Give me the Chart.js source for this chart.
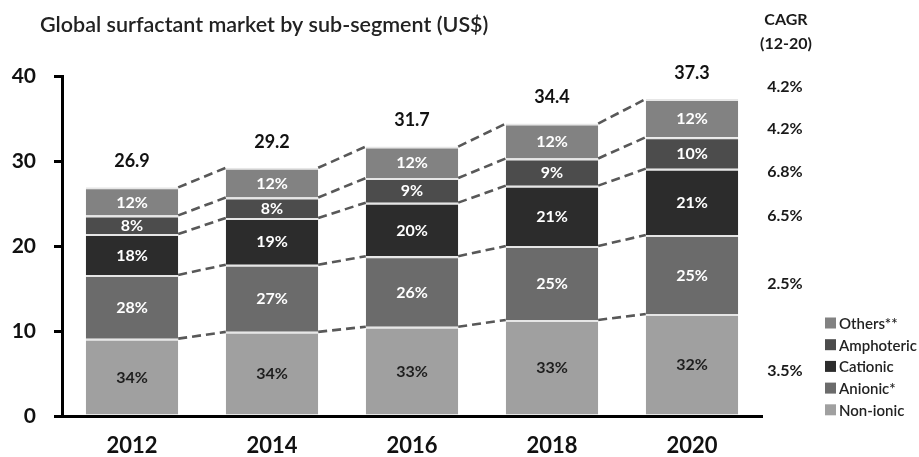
<!DOCTYPE html>
<html>
<head>
<meta charset="utf-8">
<script src="https://cdn.jsdelivr.net/npm/chart.js@4.4.1/dist/chart.umd.min.js"></script>
<style>
html,body{margin:0;padding:0;background:#fff;}
#wrap{width:919px;height:457px;position:relative;}
</style>
</head>
<body>
<div id="wrap"><canvas id="c" width="919" height="457"></canvas></div>
<script>
const categories = ['2012', '2014', '2016', '2018', '2020'];
const totals = [26.9, 29.2, 31.7, 34.4, 37.3];
const nonIonic = [9.1, 9.9, 10.5, 11.3, 12.0];
const anionic = [7.5, 7.9, 8.3, 8.7, 9.3];
const cationic = [4.8, 5.5, 6.3, 7.1, 7.8];
const amphoteric = [2.2, 2.4, 2.9, 3.2, 3.7];
const others = [3.3, 3.5, 3.7, 4.1, 4.5];
const nonIonicPct = [34, 34, 33, 33, 32];
const anionicPct = [28, 27, 26, 25, 25];
const cationicPct = [18, 19, 20, 21, 21];
const amphotericPct = [8, 8, 9, 9, 10];
const othersPct = [12, 12, 12, 12, 12];
const cagrTotal = '4.2%';
const cagrSeries = ['3.5%', '2.5%', '6.5%', '6.8%', '4.2%'];
const yTicks = [0, 10, 20, 30, 40];
const titleText = 'Global surfactant market by sub-segment (US$)';
const cagrHeader = ['CAGR', '(12-20)'];
const seriesNames = ['Non-ionic', 'Anionic*', 'Cationic', 'Amphoteric', 'Others**'];

const FONT = 'Lato, "Open Sans", sans-serif';
const colors = ['#a0a0a0', '#6b6b6b', '#2c2c2c', '#4c4c4c', '#828282'];
const labelColors = ['#1e1e1e', '#ffffff', '#ffffff', '#ffffff', '#ffffff'];
const pcts = [nonIonicPct, anionicPct, cationicPct, amphotericPct, othersPct];
const values = [nonIonic, anionic, cationic, amphoteric, others];

const decor = {
  id: 'decor',
  beforeDatasetsDraw(chart) {
    const ctx = chart.ctx;
    ctx.save();
    ctx.strokeStyle = '#585858';
    ctx.lineWidth = 2.6;
    ctx.setLineDash([9, 5]);
    for (let d = 0; d < values.length; d++) {
      const meta = chart.getDatasetMeta(d);
      for (let i = 0; i < meta.data.length - 1; i++) {
        const a = meta.data[i], b = meta.data[i + 1];
        ctx.beginPath();
        ctx.moveTo(a.x + a.width / 2, a.y);
        ctx.lineTo(b.x - b.width / 2, b.y);
        ctx.stroke();
      }
    }
    ctx.restore();
  },
  afterDatasetsDraw(chart) {
    const ctx = chart.ctx;
    ctx.save();
    ctx.textAlign = 'center';
    ctx.textBaseline = 'middle';
    ctx.font = 'bold 16px ' + FONT;
    for (let d = 0; d < values.length; d++) {
      const meta = chart.getDatasetMeta(d);
      meta.data.forEach((bar, i) => {
        const yc = (bar.y + bar.base) / 2;
        ctx.fillStyle = labelColors[d];
        ctx.fillText(pcts[d][i] + '%', bar.x, yc + 1);
      });
    }
    // totals
    const topMeta = chart.getDatasetMeta(values.length - 1);
    ctx.font = 'bold 18px ' + FONT;
    ctx.fillStyle = '#111';
    topMeta.data.forEach((bar, i) => {
      ctx.fillText(totals[i].toFixed(1), bar.x, bar.y - 26);
    });
    ctx.restore();
  },
  afterDraw(chart) {
    const ctx = chart.ctx;
    const ys = chart.scales.y;
    ctx.save();
    // title
    ctx.font = '600 21.5px ' + FONT;
    ctx.fillStyle = '#222';
    ctx.textAlign = 'left';
    ctx.textBaseline = 'middle';
    ctx.fillText(titleText, 40, 25);
    // CAGR column
    ctx.textAlign = 'center';
    ctx.font = 'bold 16px ' + FONT;
    ctx.fillStyle = '#1a1a1a';
    ctx.fillText(cagrHeader[0], 786, 20);
    ctx.fillText(cagrHeader[1], 786, 44);
    const cagrPos = [5.3, 15.6, 23.6, 28.7, 33.8];
    cagrSeries.forEach((t, i) => ctx.fillText(t, 785, ys.getPixelForValue(cagrPos[i])));
    ctx.fillText(cagrTotal, 785, ys.getPixelForValue(38.7));
    // legend
    ctx.textAlign = 'left';
    ctx.font = '600 15px ' + FONT;
    for (let k = 0; k < seriesNames.length; k++) {
      const idx = seriesNames.length - 1 - k;
      const yc = 323 + k * 21.7;
      ctx.fillStyle = colors[idx];
      ctx.fillRect(825, yc - 5.5, 11, 11);
      ctx.fillStyle = '#222';
      ctx.fillText(seriesNames[idx], 839, yc + 1);
    }
    ctx.restore();
  }
};

new Chart(document.getElementById('c'), {
  type: 'bar',
  data: {
    labels: categories,
    datasets: values.map((v, d) => ({
      label: seriesNames[d],
      data: v,
      backgroundColor: colors[d],
      borderColor: '#e6e6e6',
      borderWidth: {top: 2, left: 0, right: 0, bottom: 0},
      borderSkipped: 'start',
      categoryPercentage: 1,
      barPercentage: 0.66
    }))
  },
  options: {
    responsive: false,
    animation: false,
    devicePixelRatio: 1,
    layout: {padding: {left: 0, right: 157, top: 76, bottom: 0}},
    plugins: {
      legend: {display: false},
      title: {display: false},
      tooltip: {enabled: false}
    },
    scales: {
      x: {
        stacked: true,
        grid: {display: false},
        border: {display: true, color: '#000', width: 3},
        ticks: {color: '#111', font: {family: FONT, size: 22, weight: 'bold'}, padding: 9},
        afterFit(s) { s.height = 41; }
      },
      y: {
        stacked: true,
        min: 0,
        max: 40,
        afterBuildTicks(s) { s.ticks = yTicks.map(v => ({value: v})); },
        grid: {display: true, drawOnChartArea: false, drawTicks: true, tickLength: 8, color: '#000', lineWidth: 3},
        border: {display: true, color: '#000', width: 3},
        ticks: {color: '#111', font: {family: FONT, size: 21, weight: 'bold'}, padding: 18},
        afterFit(s) { s.width = 62; }
      }
    }
  },
  plugins: [decor]
});
</script>
</body>
</html>
